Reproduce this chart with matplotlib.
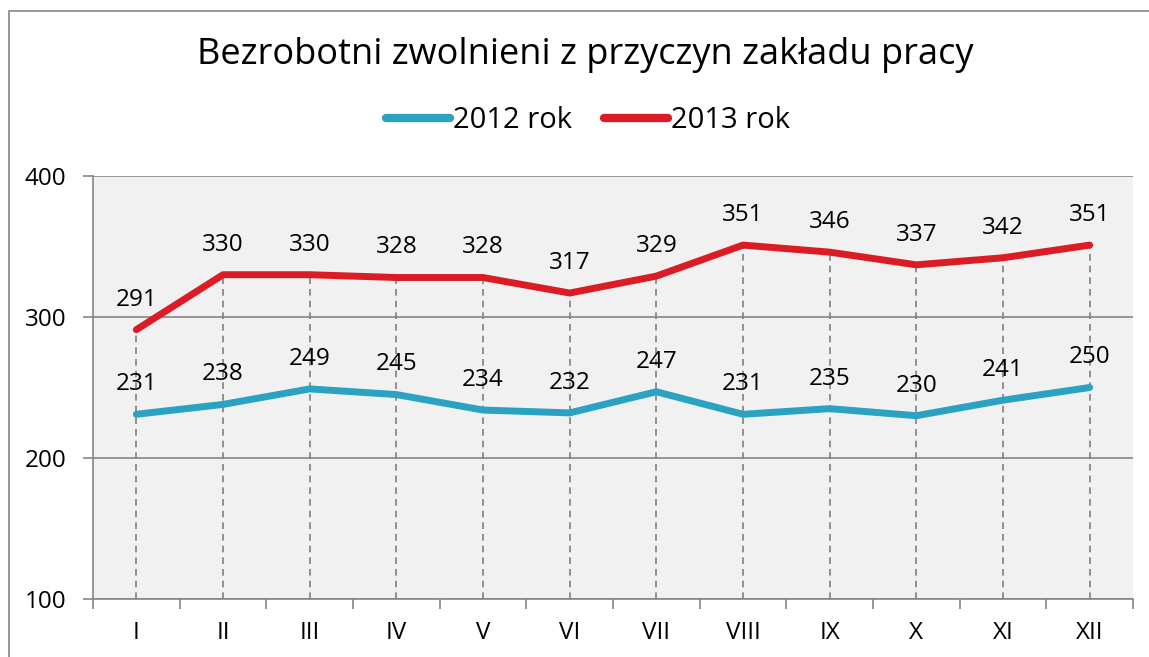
import numpy as np
import matplotlib.pyplot as plt
from matplotlib.patches import Rectangle

plt.rcParams['font.family'] = ['Open Sans', 'DejaVu Sans']

months = ['I', 'II', 'III', 'IV', 'V', 'VI', 'VII', 'VIII', 'IX', 'X', 'XI', 'XII']
rok_2012 = [231, 238, 249, 245, 234, 232, 247, 231, 235, 230, 241, 250]
rok_2013 = [291, 330, 330, 328, 328, 317, 329, 351, 346, 337, 342, 351]

blue = '#2aa2c2'
red = '#db1c24'
grey = '#868686'

fig = plt.figure(figsize=(11.49, 6.57), dpi=100)
ax = fig.add_axes([93 / 1149, 1 - 599 / 657, 1040 / 1149, 423 / 657])
ax.set_facecolor('#f1f1f1')

# outer chart border
fig.patches.append(Rectangle((9 / 1149, -0.01), 1.2, 1 - 11 / 657 + 0.01,
                             transform=fig.transFigure, fill=False,
                             edgecolor=grey, lw=1.2))

x = np.arange(len(months))

# drop lines from the upper series
ax.vlines(x, 100, rok_2013, colors='#7f7f7f', linestyles=(0, (4, 3)), lw=1.2, zorder=1)

ax.plot(x, rok_2012, color=blue, lw=5, solid_capstyle='round', solid_joinstyle='round',
        label='2012 rok', zorder=3)
ax.plot(x, rok_2013, color=red, lw=5, solid_capstyle='round', solid_joinstyle='round',
        label='2013 rok', zorder=3)

for xi, v in zip(x, rok_2012):
    ax.annotate(str(v), (xi, v), xytext=(0, 13), textcoords='offset points',
                ha='center', va='bottom', fontsize=17.5)
for xi, v in zip(x, rok_2013):
    ax.annotate(str(v), (xi, v), xytext=(0, 13), textcoords='offset points',
                ha='center', va='bottom', fontsize=17.5)

ax.set_xlim(-0.5, len(months) - 0.5)
ax.set_ylim(100, 400)
ax.set_yticks([100, 200, 300, 400])
ax.yaxis.grid(True, color=grey, lw=1.2)
ax.set_axisbelow(True)

ax.set_xticks(np.arange(-0.5, len(months)), minor=False)
ax.set_xticklabels([])
ax.set_xticks(x, minor=True)
ax.set_xticklabels(months, minor=True, fontsize=17.5)
ax.tick_params(axis='x', which='major', length=7, color=grey, width=1.2)
ax.tick_params(axis='x', which='minor', length=0, pad=16)
ax.tick_params(axis='y', length=7, color=grey, width=1.2, labelsize=17.5, pad=12)

for side in ['top', 'right']:
    ax.spines[side].set_visible(False)
for side in ['left', 'bottom']:
    ax.spines[side].set_color(grey)
    ax.spines[side].set_linewidth(1.2)

fig.text(585 / 1149, 1 - 55 / 657, 'Bezrobotni zwolnieni z przyczyn zakładu pracy',
         ha='center', va='center', fontsize=26)
leg = fig.legend(loc='center', bbox_to_anchor=(588 / 1149, 1 - 121 / 657), ncol=2,
                 frameon=False, fontsize=21, handlelength=2.2, handletextpad=0.1,
                 columnspacing=1.1)
for line in leg.get_lines():
    line.set_linewidth(6)

fig.savefig('out.png', dpi=100)
